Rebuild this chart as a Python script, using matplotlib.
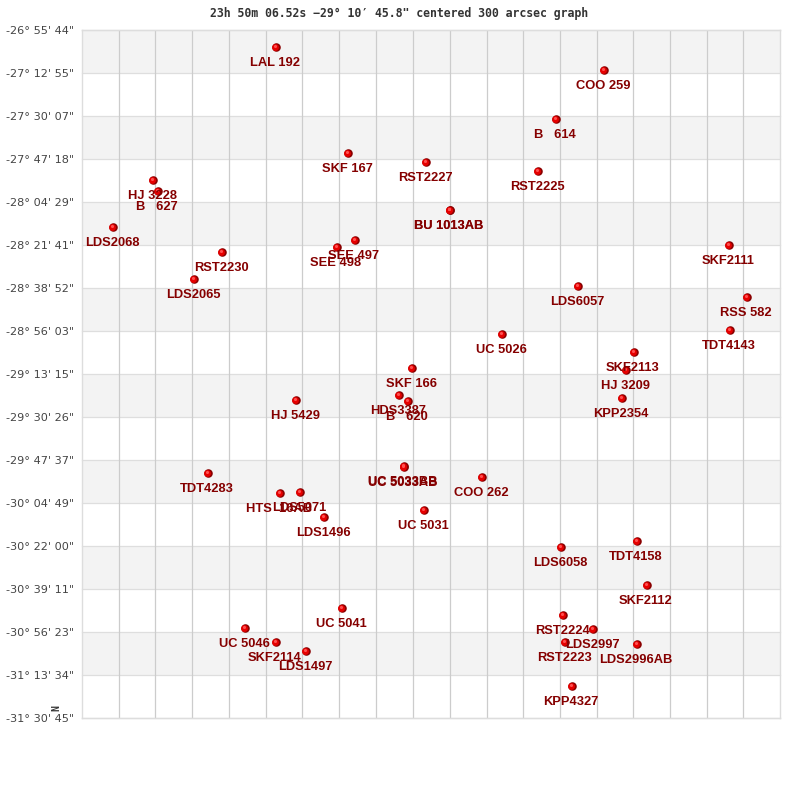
import matplotlib
matplotlib.use("Agg")
import matplotlib.pyplot as plt

title_text = '23h 50m 06.52s \u221229\u00b0 10\u2032 45.8" centered 300 arcsec graph'

dec_labels = ['-26\u00b0 55\' 44"', '-27\u00b0 12\' 55"', '-27\u00b0 30\' 07"', '-27\u00b0 47\' 18"',
              '-28\u00b0 04\' 29"', '-28\u00b0 21\' 41"', '-28\u00b0 38\' 52"', '-28\u00b0 56\' 03"',
              '-29\u00b0 13\' 15"', '-29\u00b0 30\' 26"', '-29\u00b0 47\' 37"', '-30\u00b0 04\' 49"',
              '-30\u00b0 22\' 00"', '-30\u00b0 39\' 11"', '-30\u00b0 56\' 23"', '-31\u00b0 13\' 34"',
              '-31\u00b0 30\' 45"']

ra_grid = [119, 154.5, 192, 229, 266, 302, 338.5, 376, 412.5, 449.5, 486.5, 522.5,
           559.5, 596.5, 633, 670, 707, 742.5]

star_names = ['LAL 192', 'COO 259', 'B   614', 'SKF 167', 'RST2227', 'RST2225', 'HJ 3228',
              'B   627', 'BU 1013AB', 'BU 1013AB', 'LDS2068', 'SEE 497', 'SEE 498', 'RST2230', 'SKF2111',
              'LDS2065', 'LDS6057', 'RSS 582', 'TDT4143', 'UC 5026', 'SKF2113', 'SKF 166',
              'HJ 3209', 'KPP2354', 'HDS3387', 'B   620', 'HJ 5429', 'UC 5033AB', 'UC 5033BB',
              'TDT4283', 'COO 262', 'HTS  16AB', 'LDS5071', 'LDS1496', 'UC 5031', 'TDT4158',
              'LDS6058', 'SKF2112', 'UC 5041', 'RST2224', 'LDS2997', 'UC 5046', 'SKF2114',
              'RST2223', 'LDS2996AB', 'LDS1497', 'KPP4327']

star_ra = [275.5, 603.5, 555.5, 347.5, 425.5, 537.5, 152.5, 157.5, 449.5, 449.5, 112.5, 354.5, 336.5,
           221.5, 728.5, 193.5, 577.5, 746.5, 729.5, 501.5, 633.5, 411.5, 625.5, 621.5, 398.5, 407.5,
           295.5, 403.5, 403.5, 207.5, 481.5, 279.5, 299.5, 323.5, 423.5, 636.5, 560.5, 646.5, 341.5,
           562.5, 592.5, 244.5, 275.5, 564.5, 636.5, 305.5, 571.5]

star_dec = [-27.0422, -27.1954, -27.5218, -27.7484, -27.8083, -27.8683, -27.9282, -28.0015,
            -28.1281, -28.1281, -28.2414, -28.3280, -28.3746, -28.4079, -28.3613, -28.5878, -28.6344,
            -28.7077, -28.9276, -28.9542, -29.0741, -29.1807, -29.1941, -29.3806, -29.3606,
            -29.4006, -29.3939, -29.8403, -29.8336, -29.8803, -29.9069, -30.0135, -30.0068,
            -30.1734, -30.1268, -30.3333, -30.3733, -30.6264, -30.7797, -30.8263, -30.9196,
            -30.9129, -31.0062, -31.0062, -31.0195, -31.0661, -31.2993]


def to_deg(label):
    d, m, s = label.replace('\u00b0', '').replace("'", '').replace('"', '').split()
    return float(d) - float(m) / 60 - float(s) / 3600


dec_ticks = [to_deg(l) for l in dec_labels]

fig = plt.figure(figsize=(8, 8), dpi=100, facecolor='white')
ax = fig.add_axes([82 / 800, 82 / 800, 698 / 800, 688 / 800])
ax.set_xlim(82, 780)
ax.set_ylim(dec_ticks[-1], dec_ticks[0])

for i in range(0, len(dec_ticks) - 1, 2):
    ax.axhspan(dec_ticks[i + 1], dec_ticks[i], color='#f3f3f3', lw=0, zorder=0)
for d in dec_ticks:
    ax.axhline(d, color='#dedede', lw=0.9, zorder=1, clip_on=False)
for r in ra_grid:
    ax.axvline(r, color='#cccccc', lw=0.9, zorder=2)

for s in ax.spines.values():
    s.set_color('#dddddd')
    s.set_linewidth(1.0)

ax.set_xticks([])
ax.set_yticks(dec_ticks)
ax.set_yticklabels(dec_labels, family='DejaVu Sans', fontsize=8.1, color='#444444')
ax.tick_params(axis='y', length=0, pad=5.5)

# sphere-like marker: dark rim, red body, lighter highlight
ax.scatter(star_ra, star_dec, s=38, c='#8a0000', linewidths=0, zorder=4)
ax.scatter([x - 0.3 for x in star_ra], [y + 0.0025 for y in star_dec], s=24, c='#e60000',
           linewidths=0, zorder=5)
ax.scatter([x - 0.8 for x in star_ra], [y + 0.007 for y in star_dec], s=5, c='#ff5050',
           linewidths=0, zorder=5)

for name, x, y in zip(star_names, star_ra, star_dec):
    ax.annotate(name, (x, y), xytext=(-0.5, -16), textcoords='offset pixels', ha='center',
                va='center', family='Liberation Sans', weight='bold', fontsize=9.3,
                color='#850000', zorder=6)

fig.text(399.5 / 800, 1 - 13 / 800, title_text, ha='center', va='center',
         family='DejaVu Sans Mono', weight='bold', fontsize=8.3, color='#333333')
fig.text(56 / 800, 1 - 708 / 800, 'N', rotation=90, ha='center', va='center',
         family='DejaVu Sans Mono', weight='bold', fontsize=7, color='#333333')

fig.savefig('out.png', dpi=100)
